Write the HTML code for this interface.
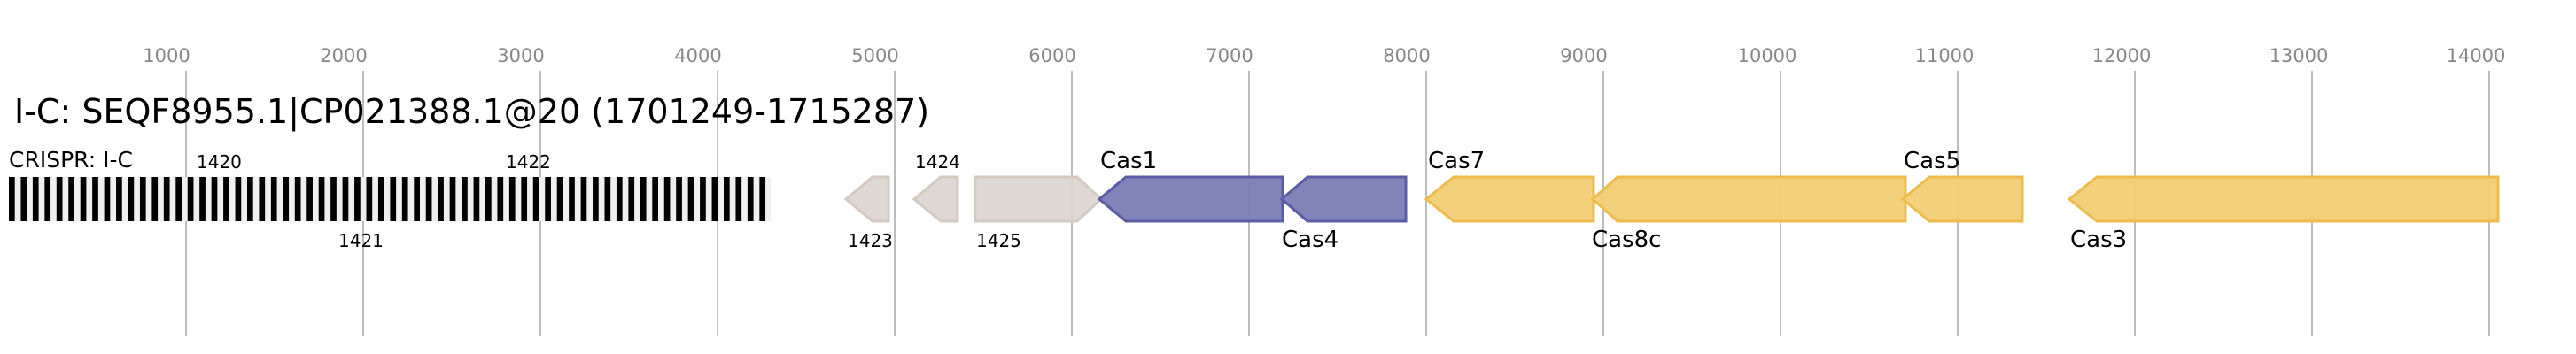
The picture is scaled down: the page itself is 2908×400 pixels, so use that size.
<!DOCTYPE html>
<html><head><meta charset="utf-8"><style>body{margin:0;background:#fff}svg{display:block}</style></head>
<body>
<svg width="2908" height="400" viewBox="0 0 2908 400" xmlns="http://www.w3.org/2000/svg" font-family="'DejaVu Sans','Liberation Sans',sans-serif">
<defs><rect id="b" x="0" y="200" width="6.7" height="50" fill="#000"/></defs>
<g stroke="#bdbdbd" stroke-width="2">
<line x1="210" y1="80" x2="210" y2="380"/><line x1="410" y1="80" x2="410" y2="380"/>
<line x1="610" y1="80" x2="610" y2="380"/><line x1="810" y1="80" x2="810" y2="380"/>
<line x1="1010" y1="80" x2="1010" y2="380"/><line x1="1210" y1="80" x2="1210" y2="380"/>
<line x1="1410" y1="80" x2="1410" y2="380"/><line x1="1610" y1="80" x2="1610" y2="380"/>
<line x1="1810" y1="80" x2="1810" y2="380"/><line x1="2010" y1="80" x2="2010" y2="380"/>
<line x1="2210" y1="80" x2="2210" y2="380"/><line x1="2410" y1="80" x2="2410" y2="380"/>
<line x1="2610" y1="80" x2="2610" y2="380"/><line x1="2810" y1="80" x2="2810" y2="380"/>
</g>
<g fill="#888" font-size="21" text-anchor="middle">
<text x="188" y="70">1000</text><text x="388" y="70">2000</text><text x="588" y="70">3000</text>
<text x="788" y="70">4000</text><text x="988" y="70">5000</text><text x="1188" y="70">6000</text>
<text x="1388" y="70">7000</text><text x="1588" y="70">8000</text><text x="1788" y="70">9000</text>
<text x="1995" y="70">10000</text><text x="2195" y="70">11000</text><text x="2395" y="70">12000</text>
<text x="2595" y="70">13000</text><text x="2795" y="70">14000</text>
</g>
<text x="16" y="139" font-size="38" fill="#000">I-C: SEQF8955.1|CP021388.1@20 (1701249-1715287)</text>
<text x="10" y="189" font-size="25" fill="#000">CRISPR: I-C</text>
<rect x="10" y="200" width="860" height="50" fill="#f0f0f0"/>
<g>
<use href="#b" x="10"/><use href="#b" x="23.45"/><use href="#b" x="36.9"/><use href="#b" x="50.35"/>
<use href="#b" x="63.8"/><use href="#b" x="77.25"/><use href="#b" x="90.7"/><use href="#b" x="104.15"/>
<use href="#b" x="117.6"/><use href="#b" x="131.05"/><use href="#b" x="144.5"/><use href="#b" x="157.95"/>
<use href="#b" x="171.4"/><use href="#b" x="184.85"/><use href="#b" x="198.3"/><use href="#b" x="211.75"/>
<use href="#b" x="225.2"/><use href="#b" x="238.65"/><use href="#b" x="252.1"/><use href="#b" x="265.55"/>
<use href="#b" x="279"/><use href="#b" x="292.45"/><use href="#b" x="305.9"/><use href="#b" x="319.35"/>
<use href="#b" x="332.8"/><use href="#b" x="346.25"/><use href="#b" x="359.7"/><use href="#b" x="373.15"/>
<use href="#b" x="386.6"/><use href="#b" x="400.05"/><use href="#b" x="413.5"/><use href="#b" x="426.95"/>
<use href="#b" x="440.4"/><use href="#b" x="453.85"/><use href="#b" x="467.3"/><use href="#b" x="480.75"/>
<use href="#b" x="494.2"/><use href="#b" x="507.65"/><use href="#b" x="521.1"/><use href="#b" x="534.55"/>
<use href="#b" x="548"/><use href="#b" x="561.45"/><use href="#b" x="574.9"/><use href="#b" x="588.35"/>
<use href="#b" x="601.8"/><use href="#b" x="615.25"/><use href="#b" x="628.7"/><use href="#b" x="642.15"/>
<use href="#b" x="655.6"/><use href="#b" x="669.05"/><use href="#b" x="682.5"/><use href="#b" x="695.95"/>
<use href="#b" x="709.4"/><use href="#b" x="722.85"/><use href="#b" x="736.3"/><use href="#b" x="749.75"/>
<use href="#b" x="763.2"/><use href="#b" x="776.65"/><use href="#b" x="790.1"/><use href="#b" x="803.55"/>
<use href="#b" x="817"/><use href="#b" x="830.45"/><use href="#b" x="843.9"/><use href="#b" x="857.35"/>
</g>
<g font-size="20" fill="#000">
<text x="222" y="190">1420</text><text x="571" y="190">1422</text><text x="382" y="279">1421</text>
<text x="957" y="279">1423</text><text x="1033" y="190">1424</text><text x="1102" y="279">1425</text>
</g>
<g stroke-width="3">
<polygon points="955,225 985,200 1003,200 1003,250 985,250" fill="#dbd3ce" stroke="#d3c9c1" fill-opacity="0.9"/>
<polygon points="1032,225 1062,200 1081,200 1081,250 1062,250" fill="#dbd3ce" stroke="#d3c9c1" fill-opacity="0.9"/>
<polygon points="1101,200 1216,200 1243,225 1216,250 1101,250" fill="#dbd3ce" stroke="#d3c9c1" fill-opacity="0.9"/>
<polygon points="1241,225 1271,200 1448,200 1448,250 1271,250" fill="#7b7db5" stroke="#5a5ca6" fill-opacity="0.95"/>
<polygon points="1447,225 1476,200 1587,200 1587,250 1476,250" fill="#7b7db5" stroke="#5a5ca6" fill-opacity="0.95"/>
<polygon points="1610,225 1641,200 1799,200 1799,250 1641,250" fill="#f2cd75" stroke="#eebc4c" fill-opacity="0.95"/>
<polygon points="1798,225 1826,200 2151,200 2151,250 1826,250" fill="#f2cd75" stroke="#eebc4c" fill-opacity="0.95"/>
<polygon points="2148,225 2178,200 2283,200 2283,250 2178,250" fill="#f2cd75" stroke="#eebc4c" fill-opacity="0.95"/>
<polygon points="2336,225 2367,200 2820,200 2820,250 2367,250" fill="#f2cd75" stroke="#eebc4c" fill-opacity="0.95"/>
</g>
<g font-size="26" fill="#000">
<text x="1242" y="190">Cas1</text><text x="1447" y="279">Cas4</text>
<text x="1612" y="190">Cas7</text><text x="1797" y="279">Cas8c</text>
<text x="2149" y="190">Cas5</text><text x="2337" y="279">Cas3</text>
</g>
</svg>
</body></html>
